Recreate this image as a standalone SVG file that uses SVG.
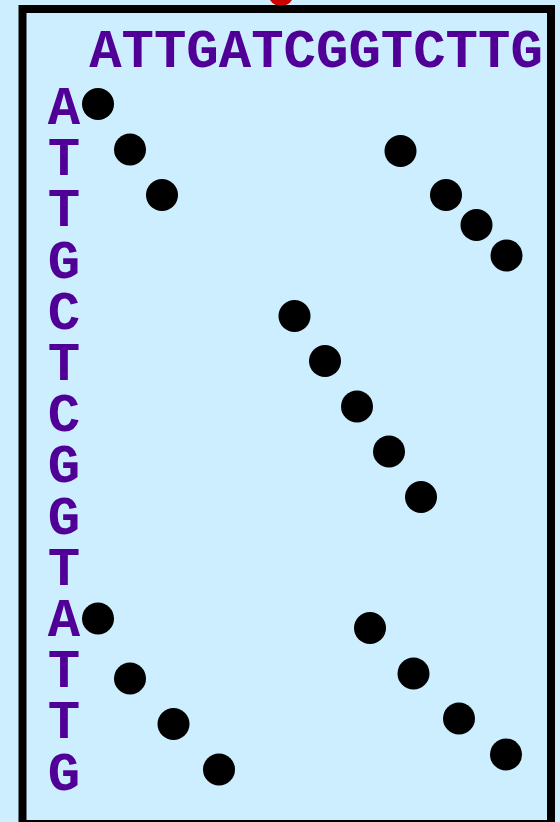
<svg xmlns="http://www.w3.org/2000/svg" width="560" height="822" viewBox="0 0 560 822">
<style>
.bg{fill:#cceeff}
.box{fill:#cceeff;stroke:#000;stroke-width:8}
.seq{font-family:"Liberation Mono","Courier New",monospace;font-weight:bold;font-size:54px;fill:#500096}
.dot{fill:#000}
</style>
<rect class="bg" x="0" y="0" width="560" height="822"/>
<circle id="marker-top" cx="281" cy="-7" r="13" fill="#cc0000"/>
<rect id="frame" class="box" x="22.5" y="9" width="528.5" height="815"/>
<g id="top-seq">
<text class="seq" x="316" y="67" text-anchor="middle">ATTGATCGGTCTTG</text>
</g>
<g id="left-seq">
<text class="seq" text-anchor="middle"><tspan x="64" y="124">A</tspan><tspan x="64" y="175.2">T</tspan><tspan x="64" y="226.4">T</tspan><tspan x="64" y="277.6">G</tspan><tspan x="64" y="328.8">C</tspan><tspan x="64" y="380">T</tspan><tspan x="64" y="431.2">C</tspan><tspan x="64" y="482.4">G</tspan><tspan x="64" y="533.6">G</tspan><tspan x="64" y="584.8">T</tspan><tspan x="64" y="636">A</tspan><tspan x="64" y="687.2">T</tspan><tspan x="64" y="738.4">T</tspan><tspan x="64" y="789.6">G</tspan></text>
</g>
<g id="dots">
<circle class="dot" cx="98" cy="104" r="16"/>
<circle class="dot" cx="130" cy="149.5" r="16"/>
<circle class="dot" cx="162" cy="195" r="16"/>
<circle class="dot" cx="400.5" cy="151" r="16"/>
<circle class="dot" cx="446" cy="195" r="16"/>
<circle class="dot" cx="476.5" cy="225" r="16"/>
<circle class="dot" cx="506.5" cy="255.5" r="16"/>
<circle class="dot" cx="294.5" cy="316" r="16"/>
<circle class="dot" cx="325" cy="361" r="16"/>
<circle class="dot" cx="357" cy="406.5" r="16"/>
<circle class="dot" cx="389" cy="451.5" r="16"/>
<circle class="dot" cx="421" cy="497" r="16"/>
<circle class="dot" cx="98" cy="618.5" r="16"/>
<circle class="dot" cx="130" cy="678.5" r="16"/>
<circle class="dot" cx="173.5" cy="724" r="16"/>
<circle class="dot" cx="219" cy="769.5" r="16"/>
<circle class="dot" cx="370" cy="628" r="16"/>
<circle class="dot" cx="413.5" cy="673.5" r="16"/>
<circle class="dot" cx="459" cy="718.5" r="16"/>
<circle class="dot" cx="506" cy="754.5" r="16"/>
</g>
</svg>
